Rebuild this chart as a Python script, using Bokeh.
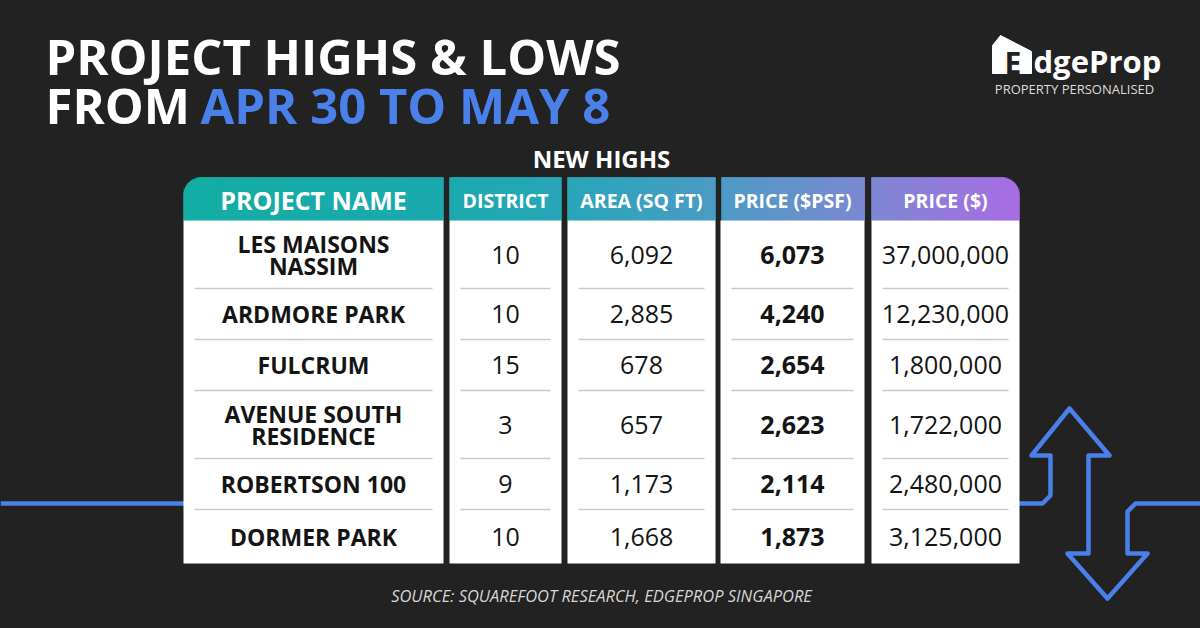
import numpy as np
from bokeh.plotting import figure
from bokeh.models import Range1d, ColumnDataSource
from bokeh.core.properties import value
from bokeh.embed import file_html
from bokeh.resources import INLINE

# ---------------- data ----------------
title_line1 = "PROJECT HIGHS & LOWS"
title_from = "FROM"
title_dates = "APR 30 TO MAY 8"
section_title = "NEW HIGHS"
columns = ["PROJECT NAME", "DISTRICT", "AREA (SQ FT)", "PRICE ($PSF)", "PRICE ($)"]
projects = ["LES MAISONS\nNASSIM", "ARDMORE PARK", "FULCRUM",
            "AVENUE SOUTH\nRESIDENCE", "ROBERTSON 100", "DORMER PARK"]
districts = [10, 10, 15, 3, 9, 10]
areas_sqft = [6092, 2885, 678, 657, 1173, 1668]
price_psf = [6073, 4240, 2654, 2623, 2114, 1873]
price_total = [37000000, 12230000, 1800000, 1722000, 2480000, 3125000]
source_note = "SOURCE: SQUAREFOOT RESEARCH, EDGEPROP SINGAPORE"
brand = "dgeProp"
tagline = "PROPERTY PERSONALISED"

# ---------------- style ----------------
BG = "#222222"
BLUE = "#4a80ea"
FONT = value("Open Sans")
TXT = "#141414"

p = figure(width=1200, height=628, x_range=Range1d(0, 1200), y_range=Range1d(628, 0),
           output_backend="svg", toolbar_location=None, min_border=0,
           x_axis_location=None, y_axis_location=None)
p.grid.visible = False
p.outline_line_color = None
p.background_fill_color = BG
p.border_fill_color = BG

def txt(x, y, s, size, color, bold=False, italic=False, align="center"):
    style = "bold" if bold else ("italic" if italic else "normal")
    p.text(x=[x], y=[y], text=[s], text_font=FONT, text_font_style=style,
           text_font_size=f"{size}px", text_color=color, text_baseline="middle", text_align=align)

# ---------------- blue connector lines ----------------
p.line(x=[0, 190], y=[503, 503], line_color=BLUE, line_width=4.5)
arrow_x = [1012, 1042, 1050, 1050, 1031, 1069, 1109, 1088, 1088, 1067, 1107, 1147, 1127, 1127, 1135, 1200]
arrow_y = [503, 503, 495, 455, 455, 408, 455, 455, 553, 553, 598, 553, 553, 511, 503, 503]
p.line(x=arrow_x, y=arrow_y, line_color=BLUE, line_width=4.5, line_join="round", line_cap="round")

# ---------------- title ----------------
TS = 49
txt(45, 55, title_line1, TS, "white", bold=True, align="left")
txt(45, 104, title_from, TS, "white", bold=True, align="left")
txt(200, 104, title_dates, TS, BLUE, bold=True, align="left")

# ---------------- logo ----------------
p.patch(x=[992, 992, 1000, 1031, 1031], y=[73, 45, 35, 51, 73], fill_color="white", line_color="white")
txt(1004, 62, "E", 30, BG, bold=True, align="left")
txt(1033, 60, brand, 31, "white", bold=True, align="left")
txt(1074, 88.5, tagline, 13, "#dddddd")

# ---------------- section title ----------------
txt(601, 158, section_title, 24, "white", bold=True)

# ---------------- table geometry ----------------
col_left = [183, 449, 567, 720, 871]
col_right = [443, 561, 715, 864, 1019]
head_top, head_bot = 177, 220
n_lines = [len(s.split("\n")) for s in projects]
row_h = [34 + 17 * n for n in n_lines]
row_top = [head_bot + sum(row_h[:i]) for i in range(len(projects))]
row_bot = [t + h for t, h in zip(row_top, row_h)]
row_mid = [(t + b) / 2 for t, b in zip(row_top, row_bot)]
table_bot = row_bot[-1] + 3
row_mid[-1] += 1.5

# header gradient strips
stop_x = [183, 450, 567, 720, 864, 1019]
stop_c = [(18, 173, 163), (28, 169, 174), (40, 166, 185), (76, 155, 196), (124, 136, 210), (168, 109, 227)]
xs = np.arange(183, 1019, 2.0)
strip_l, strip_r, strip_c = [], [], []
for x0 in xs:
    for l, r in zip(col_left, col_right):
        if l <= x0 < r:
            rgb = [int(round(np.interp(x0 + 1, stop_x, [c[k] for c in stop_c]))) for k in range(3)]
            strip_l.append(x0)
            strip_r.append(min(x0 + 3.0, r))
            strip_c.append("#%02x%02x%02x" % tuple(rgb))
p.quad(left=strip_l, right=strip_r, top=head_top, bottom=head_bot, fill_color=strip_c,
       line_color=strip_c, line_width=0.6)

# body panels
p.quad(left=col_left, right=col_right, top=head_bot, bottom=table_bot, fill_color="white", line_color=None)

# rounded corners mask
r = 17
t = np.linspace(0, np.pi / 2, 18)
cx, cy = 183 + r, head_top + r
mx = [182] + list(cx - r * np.cos(t)) + [182]
my = [176] + list(cy - r * np.sin(t)) + [176]
p.patch(x=mx, y=my, fill_color=BG, line_color=None)
cx2 = 1019 - r
mx2 = [1020] + list(cx2 + r * np.cos(t)) + [1020]
p.patch(x=mx2, y=my, fill_color=BG, line_color=None)

# separators
seg_xs, seg_ys = [], []
for yb in row_bot[:-1]:
    for l, rr in zip(col_left, col_right):
        seg_xs.append([l + 11, rr - 11])
        seg_ys.append([yb, yb])
p.multi_line(xs=seg_xs, ys=seg_ys, line_color="#c9c9c9", line_width=1.3)

# header texts
col_mid = [(l + rr) / 2 for l, rr in zip(col_left, col_right)]
head_sizes = [25, 19.5, 19.5, 19.5, 19.5]
for i, name in enumerate(columns):
    txt(col_mid[i], 199.5, name, head_sizes[i], "white", bold=True)

# project names (split multi-line)
NS = 23
nx, ny, nt = [], [], []
for i, nm in enumerate(projects):
    lines = nm.split("\n")
    k = len(lines)
    for j, ln in enumerate(lines):
        nx.append(col_mid[0])
        ny.append(row_mid[i] + (j - (k - 1) / 2) * 22)
        nt.append(ln)
p.text(x=nx, y=ny, text=nt, text_font=FONT, text_font_style="bold", text_font_size=f"{NS}px",
       text_color=TXT, text_baseline="middle", text_align="center")

num_size = 25
src = ColumnDataSource(dict(
    y=row_mid,
    d=[str(v) for v in districts],
    a=[f"{v:,}" for v in areas_sqft],
    s=[f"{v:,}" for v in price_psf],
    t=[f"{v:,}" for v in price_total],
    x1=[col_mid[1]] * len(row_mid), x2=[col_mid[2]] * len(row_mid),
    x3=[col_mid[3]] * len(row_mid), x4=[col_mid[4]] * len(row_mid)))
for xcol, tcol, bold in [("x1", "d", False), ("x2", "a", False), ("x3", "s", True), ("x4", "t", False)]:
    p.text(x=xcol, y="y", text=tcol, source=src, text_font=FONT,
           text_font_style="bold" if bold else "normal", text_font_size=f"{num_size}px",
           text_color=TXT, text_baseline="middle", text_align="center")

# source note
txt(601, 595, source_note, 16.5, "#d6d6d6", italic=True)

html = file_html(p, INLINE)
html = html.replace("</head>", "<style>html, body { background: #222222; }</style></head>", 1)
open("out.html", "w").write(html)
